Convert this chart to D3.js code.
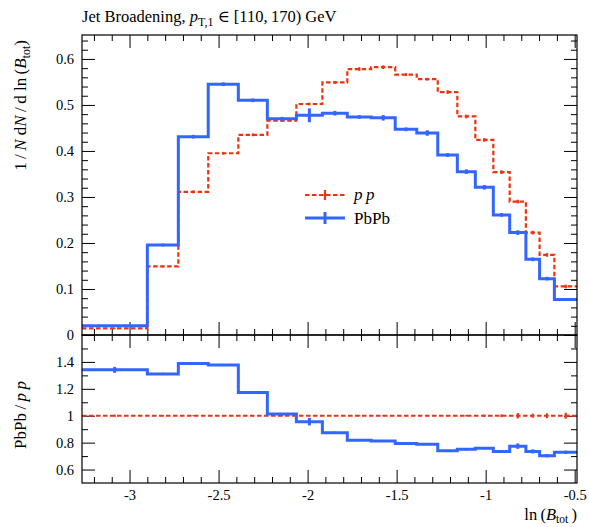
<!DOCTYPE html>
<html><head><meta charset="utf-8">
<script src="https://cdn.jsdelivr.net/npm/d3@7"></script>
<style>
body{margin:0;background:#fff;}
text{font-family:"Liberation Serif","DejaVu Serif",serif;fill:#000;}
</style></head>
<body>
<svg id="c" width="589" height="527"></svg>
<script>
// ---- data ----
const binEdges = [-3.267, -2.90, -2.726, -2.558, -2.389, -2.226, -2.063, -1.917, -1.777, -1.643, -1.508, -1.387, -1.269, -1.159, -1.058, -0.957, -0.865, -0.774, -0.697, -0.614, -0.487];
const ppValues = [0.0145, 0.149, 0.311, 0.395, 0.435, 0.466, 0.502, 0.549, 0.578, 0.582, 0.566, 0.556, 0.528, 0.475, 0.424, 0.354, 0.290, 0.2225, 0.174, 0.1055];
const ppErrors = [0.001, 0.002, 0.003, 0.003, 0.003, 0.003, 0.003, 0.003, 0.004, 0.004, 0.003, 0.003, 0.004, 0.004, 0.004, 0.004, 0.004, 0.004, 0.004, 0.004];
const pbpbValues = [0.020, 0.1956, 0.431, 0.545, 0.510, 0.470, 0.4775, 0.482, 0.474, 0.472, 0.447, 0.439, 0.391, 0.355, 0.321, 0.261, 0.2225, 0.1645, 0.1225, 0.077];
const pbpbErrors = [0.002, 0.003, 0.004, 0.004, 0.004, 0.004, 0.015, 0.005, 0.004, 0.006, 0.004, 0.006, 0.004, 0.005, 0.005, 0.004, 0.005, 0.004, 0.004, 0.003];
const ratioValues = [1.341, 1.311, 1.389, 1.377, 1.173, 1.012, 0.956, 0.873, 0.817, 0.812, 0.793, 0.788, 0.740, 0.750, 0.759, 0.735, 0.774, 0.735, 0.703, 0.728];
const ratioErrors = [0.022, 0.008, 0.008, 0.008, 0.008, 0.008, 0.028, 0.008, 0.006, 0.006, 0.006, 0.006, 0.006, 0.008, 0.008, 0.010, 0.020, 0.015, 0.012, 0.012];
const ppRatioErrors = [0.008, 0.005, 0.004, 0.004, 0.004, 0.004, 0.004, 0.004, 0.004, 0.004, 0.004, 0.004, 0.004, 0.006, 0.008, 0.010, 0.020, 0.015, 0.018, 0.022];
const xTicks = [-3, -2.5, -2, -1.5, -1, -0.5];
const yTopTicks = [0, 0.1, 0.2, 0.3, 0.4, 0.5, 0.6];
const yRatioTicks = [0.6, 0.8, 1, 1.2, 1.4];

const RED = "#EE3311", BLUE = "#3366FF";
const L = 82, R = 577, T = 35, MID = 335, B = 483;

const svg = d3.select("#c");
const x = d3.scaleLinear().domain([-3.267, -0.487]).range([L, R]);
const yTop = d3.scaleLinear().domain([0, 0.652]).range([MID, T]);
const yRat = d3.scaleLinear().domain([0.5, 1.6]).range([B, MID]);

const xMinor = d3.range(-3.2, -0.49, 0.1).map(v => +v.toFixed(2)).filter(v => !xTicks.some(t => Math.abs(t - v) < 1e-6));
const yTopMinor = d3.range(0, 0.651, 0.02).map(v => +v.toFixed(3)).filter(v => !yTopTicks.some(t => Math.abs(t - v) < 1e-6));
const yRatMinor = d3.range(0.5, 1.61, 0.1).map(v => +v.toFixed(2)).filter(v => !yRatioTicks.some(t => Math.abs(t - v) < 1e-6) && v > 0.5 && v < 1.6);

const fmt = d => String(d);
const MAJ = 13, MIN = 6;

function axes(g, ys, top, bottom, yMaj, yMin, xLabels) {
  g.append("g").attr("transform", `translate(0,${bottom})`)
    .call(d3.axisBottom(x).tickValues(xTicks).tickSize(-MAJ).tickPadding(7).tickFormat(xLabels ? fmt : ""));
  g.append("g").attr("transform", `translate(0,${bottom})`)
    .call(d3.axisBottom(x).tickValues(xMinor).tickSize(-MIN).tickFormat(""));
  g.append("g").attr("transform", `translate(0,${top})`)
    .call(d3.axisTop(x).tickValues(xTicks).tickSize(-MAJ).tickFormat(""));
  g.append("g").attr("transform", `translate(0,${top})`)
    .call(d3.axisTop(x).tickValues(xMinor).tickSize(-MIN).tickFormat(""));
  g.append("g").attr("transform", `translate(${L},0)`)
    .call(d3.axisLeft(ys).tickValues(yMaj).tickSize(-MAJ).tickPadding(8).tickFormat(fmt));
  g.append("g").attr("transform", `translate(${L},0)`)
    .call(d3.axisLeft(ys).tickValues(yMin).tickSize(-MIN).tickFormat(""));
  g.append("g").attr("transform", `translate(${R},0)`)
    .call(d3.axisRight(ys).tickValues(yMaj).tickSize(-MAJ).tickFormat(""));
  g.append("g").attr("transform", `translate(${R},0)`)
    .call(d3.axisRight(ys).tickValues(yMin).tickSize(-MIN).tickFormat(""));
}

const gAx = svg.append("g");
axes(gAx, yTop, T, MID, yTopTicks, yTopMinor, false);
axes(gAx, yRat, MID, B, yRatioTicks, yRatMinor, true);
gAx.selectAll(".domain").remove();
gAx.selectAll(".tick line").attr("stroke", "#000").attr("stroke-width", 1);
gAx.selectAll(".tick text").style("font-family", '"Liberation Serif",serif').style("font-size", "14.5px").attr("fill", "#000");

svg.append("clipPath").attr("id", "clipTop").append("rect").attr("x", L).attr("y", T).attr("width", R - L).attr("height", MID - T);
svg.append("clipPath").attr("id", "clipRat").append("rect").attr("x", L).attr("y", MID).attr("width", R - L).attr("height", B - MID);

function hist(g, ys, vals, errs, color, width, dash) {
  const pts = vals.map((v, i) => [binEdges[i], v]);
  pts.push([binEdges[binEdges.length - 1], vals[vals.length - 1]]);
  const line = d3.line().x(d => x(d[0])).y(d => ys(d[1])).curve(d3.curveStepAfter);
  g.append("path").attr("d", line(pts)).attr("fill", "none").attr("stroke", color)
    .attr("stroke-width", width).attr("stroke-dasharray", dash || null).attr("stroke-linejoin", "miter");
  g.selectAll(null).data(vals).enter().append("line")
    .attr("x1", (d, i) => x((binEdges[i] + binEdges[i + 1]) / 2))
    .attr("x2", (d, i) => x((binEdges[i] + binEdges[i + 1]) / 2))
    .attr("y1", (d, i) => ys(d - errs[i]))
    .attr("y2", (d, i) => ys(d + errs[i]))
    .attr("stroke", color).attr("stroke-width", width);
}

const gTop = svg.append("g").attr("clip-path", "url(#clipTop)");
hist(gTop, yTop, ppValues, ppErrors, RED, 2.2, "4.5,2.5");
hist(gTop, yTop, pbpbValues, pbpbErrors, BLUE, 3);

const gRat = svg.append("g").attr("clip-path", "url(#clipRat)");
hist(gRat, yRat, ppValues.map(() => 1), ppRatioErrors, RED, 2.2, "4.5,2.5");
hist(gRat, yRat, ratioValues, ratioErrors, BLUE, 3);

svg.append("rect").attr("x", L).attr("y", T).attr("width", R - L).attr("height", MID - T).attr("fill", "none").attr("stroke", "#000").attr("stroke-width", 1.2);
svg.append("rect").attr("x", L).attr("y", MID).attr("width", R - L).attr("height", B - MID).attr("fill", "none").attr("stroke", "#000").attr("stroke-width", 1.2);

// legend
const lg = svg.append("g");
lg.append("line").attr("x1", 305).attr("x2", 345).attr("y1", 195).attr("y2", 195).attr("stroke", RED).attr("stroke-width", 2.2).attr("stroke-dasharray", "4.5,2.5");
lg.append("line").attr("x1", 325).attr("x2", 325).attr("y1", 190).attr("y2", 200).attr("stroke", RED).attr("stroke-width", 2.2);
lg.append("line").attr("x1", 305).attr("x2", 345).attr("y1", 218).attr("y2", 218).attr("stroke", BLUE).attr("stroke-width", 3);
lg.append("line").attr("x1", 325).attr("x2", 325).attr("y1", 212).attr("y2", 224).attr("stroke", BLUE).attr("stroke-width", 3);
lg.append("text").attr("x", 354).attr("y", 200).style("font-size", "17px").style("font-style", "italic").text("p\u2009p");
lg.append("text").attr("x", 354).attr("y", 224).style("font-size", "17px").text("PbPb");

// title
const tt = svg.append("text").attr("x", L).attr("y", 22).style("font-size", "16.5px");
tt.append("tspan").text("Jet Broadening, ");
tt.append("tspan").style("font-style", "italic").text("p");
tt.append("tspan").attr("dy", 4).style("font-size", "12px").text("T,1");
tt.append("tspan").attr("dy", -4).text(" \u2208 [110,\u2009170) GeV");

// y label top
const yl = svg.append("text").attr("transform", "translate(26,40) rotate(-90)").attr("text-anchor", "end").style("font-size", "17px");
yl.append("tspan").text("1\u2009/\u2009");
yl.append("tspan").style("font-style", "italic").text("N");
yl.append("tspan").text(" d");
yl.append("tspan").style("font-style", "italic").text("N");
yl.append("tspan").text("\u2009/\u2009d ln\u2009(");
yl.append("tspan").style("font-style", "italic").text("B");
yl.append("tspan").attr("dy", 4).style("font-size", "12px").text("tot");
yl.append("tspan").attr("dy", -4).text(")");

// y label ratio
const yr = svg.append("text").attr("transform", "translate(26,415) rotate(-90)").attr("text-anchor", "middle").style("font-size", "17px");
yr.append("tspan").text("PbPb\u2009/\u2009");
yr.append("tspan").style("font-style", "italic").text("p\u2009p");

// x label
const xl = svg.append("text").attr("x", R).attr("y", 520).attr("text-anchor", "end").style("font-size", "16.5px");
xl.append("tspan").text("ln\u2009(");
xl.append("tspan").style("font-style", "italic").text("B");
xl.append("tspan").attr("dy", 2.5).style("font-size", "11.5px").text("tot");
xl.append("tspan").attr("dy", -2.5).text("\u2009)");
</script>
</body></html>
